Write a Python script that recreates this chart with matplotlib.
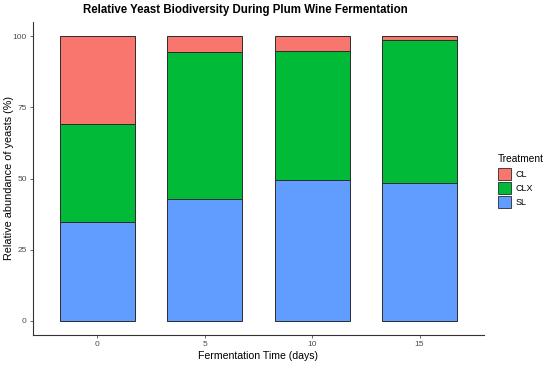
import matplotlib
matplotlib.use("Agg")
import matplotlib.pyplot as plt
from matplotlib.patches import Patch
import numpy as np

plt.rcParams["font.family"] = ["Liberation Sans", "DejaVu Sans"]

days = ["0", "5", "10", "15"]
sl = [34.7, 42.9, 49.5, 48.3]
clx = [34.5, 51.7, 45.3, 50.3]
cl = [30.8, 5.4, 5.2, 1.4]

treatments = ["CL", "CLX", "SL"]
colors = {"CL": "#F8766D", "CLX": "#00BA38", "SL": "#619CFF"}

W, H = 550, 369
fig = plt.figure(figsize=(W / 100, H / 100), dpi=100)
ax = fig.add_axes([33 / W, 1 - 335 / H, 451 / W, 313 / H])

x = np.arange(1, len(days) + 1)
w = 0.7
edge = "#2b2b2b"
ax.bar(x, sl, w, color=colors["SL"], edgecolor=edge, linewidth=0.7)
ax.bar(x, clx, w, bottom=sl, color=colors["CLX"], edgecolor=edge, linewidth=0.7)
ax.bar(x, cl, w, bottom=np.array(sl) + np.array(clx), color=colors["CL"],
       edgecolor=edge, linewidth=0.7)

ax.set_xlim(0.4, 4.6)
ax.set_ylim(-5, 105)
ax.set_xticks(x)
ax.set_xticklabels(days)
ax.set_yticks([0, 25, 50, 75, 100])
ax.tick_params(axis="both", labelsize=6, colors="#4D4D4D", length=2.5,
               width=0.6, pad=2)
for s in ["top", "right"]:
    ax.spines[s].set_visible(False)
for s in ["left", "bottom"]:
    ax.spines[s].set_color("#333333")
    ax.spines[s].set_linewidth(0.8)

ax.set_xlabel("Fermentation Time (days)", fontsize=7.6, labelpad=2)
fig.text(9 / W, 1 - 178.5 / H, "Relative abundance of yeasts (%)", fontsize=7.8,
         rotation=90, ha="center", va="center")
fig.text(245 / W, 1 - 10 / H, "Relative Yeast Biodiversity During Plum Wine Fermentation",
         fontsize=8.3, fontweight="bold", ha="center", va="center")

handles = [Patch(facecolor=colors[t], edgecolor=edge, linewidth=0.6, label=t)
           for t in treatments]
leg = fig.legend(handles=handles, title="Treatment", loc="center left",
                 bbox_to_anchor=(498 / W, 1 - 181 / H), frameon=False, fontsize=6.5,
                 title_fontsize=7.3, handlelength=1.45, handleheight=1.6,
                 handletextpad=0.5, labelspacing=0.25, borderpad=0,
                 borderaxespad=0)
leg._legend_box.align = "left"
leg._legend_box.sep = 3

fig.savefig("out.png", dpi=100)
